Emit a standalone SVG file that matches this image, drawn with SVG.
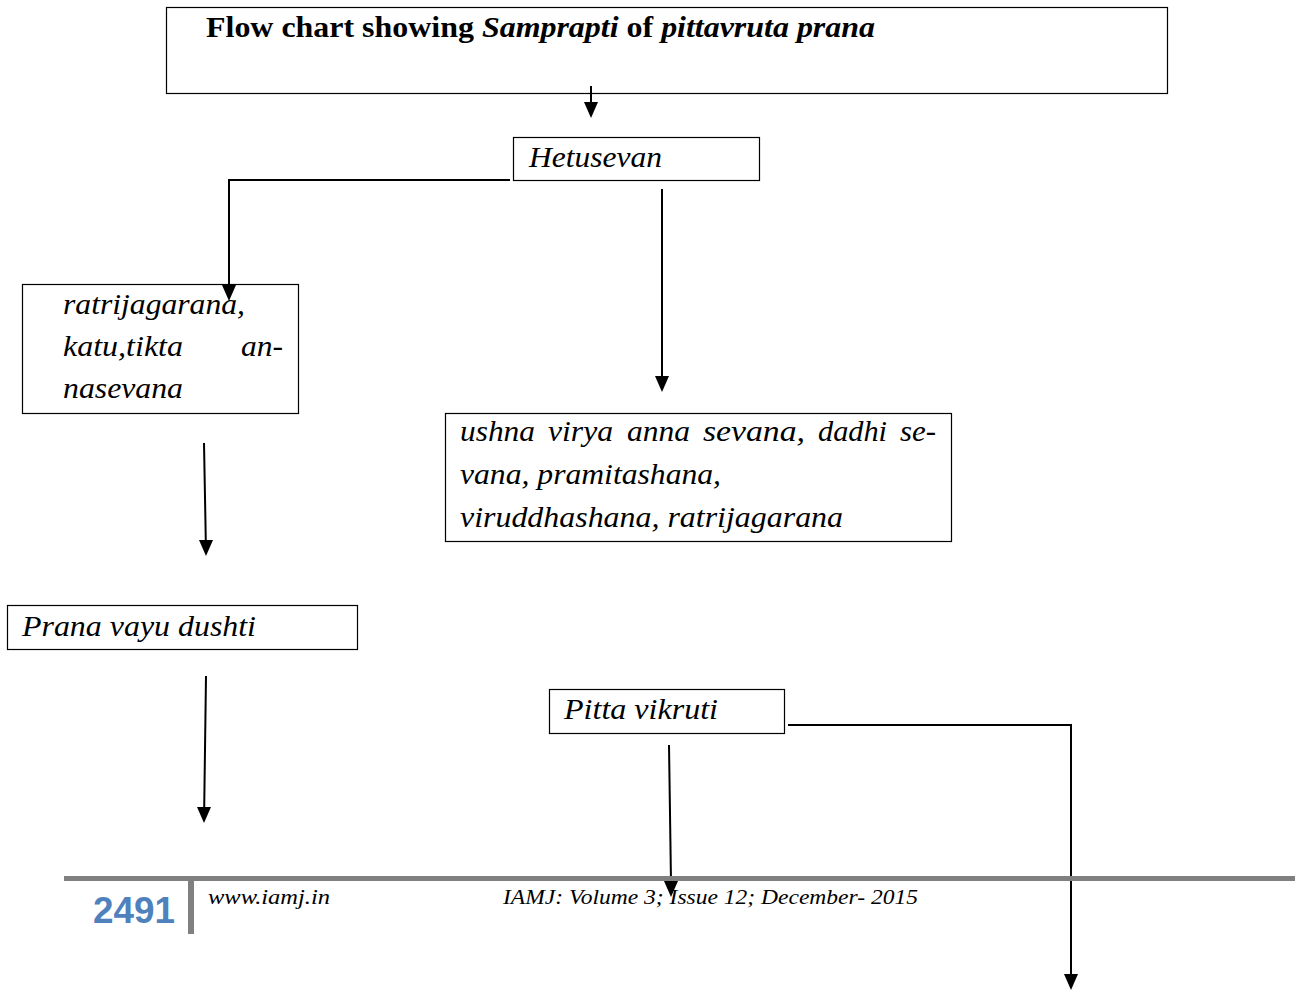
<svg xmlns="http://www.w3.org/2000/svg" width="1295" height="991" viewBox="0 0 1295 991">
<style>
.box{fill:#fff;stroke:#000;stroke-width:1.2}
.t{font-family:"Liberation Serif",serif;font-style:italic;font-size:30px;fill:#000}
.c{fill:none;stroke:#000;stroke-width:2}
.f{font-family:"Liberation Serif",serif;font-style:italic;font-size:22px;fill:#000}
</style>
<rect width="1295" height="991" fill="#fff"/>
<g id="title">
<rect class="box" x="166.5" y="7.5" width="1001" height="86"/>
<text x="206" y="37" font-family="Liberation Serif,serif" font-weight="bold" font-size="29" textLength="669" lengthAdjust="spacingAndGlyphs">Flow chart showing <tspan font-style="italic">Samprapti</tspan> of <tspan font-style="italic">pittavruta prana</tspan></text>
</g>
<g id="hetusevan">
<rect class="box" x="513.5" y="137.5" width="246" height="43"/>
<text class="t" x="529" y="167" textLength="133" lengthAdjust="spacingAndGlyphs">Hetusevan</text>
</g>
<g id="ratri">
<rect class="box" x="22.5" y="284.5" width="276" height="129"/>
<text class="t" x="63" y="314" textLength="182" lengthAdjust="spacingAndGlyphs">ratrijagarana,</text>
<text class="t" x="63" y="356" textLength="120" lengthAdjust="spacingAndGlyphs">katu,tikta</text>
<text class="t" x="241" y="356" textLength="42" lengthAdjust="spacingAndGlyphs">an-</text>
<text class="t" x="63" y="398" textLength="120" lengthAdjust="spacingAndGlyphs">nasevana</text>
</g>
<g id="ushna">
<rect class="box" x="445.5" y="413.5" width="506" height="128"/>
<text class="t" y="441"><tspan x="460" textLength="75" lengthAdjust="spacingAndGlyphs">ushna</tspan><tspan x="548" textLength="65" lengthAdjust="spacingAndGlyphs">virya</tspan><tspan x="627" textLength="63" lengthAdjust="spacingAndGlyphs">anna</tspan><tspan x="703" textLength="102" lengthAdjust="spacingAndGlyphs">sevana,</tspan><tspan x="818" textLength="69" lengthAdjust="spacingAndGlyphs">dadhi</tspan><tspan x="900" textLength="36" lengthAdjust="spacingAndGlyphs">se-</tspan></text>
<text class="t" x="460" y="484" textLength="261" lengthAdjust="spacingAndGlyphs">vana, pramitashana,</text>
<text class="t" x="460" y="527" textLength="383" lengthAdjust="spacingAndGlyphs">viruddhashana, ratrijagarana</text>
</g>
<g id="prana">
<rect class="box" x="7.5" y="605.5" width="350" height="44"/>
<text class="t" x="22" y="636" textLength="234" lengthAdjust="spacingAndGlyphs">Prana vayu dushti</text>
</g>
<g id="pitta">
<rect class="box" x="549.5" y="689.5" width="235" height="44"/>
<text class="t" x="564" y="719" textLength="154" lengthAdjust="spacingAndGlyphs">Pitta vikruti</text>
</g>
<g id="connectors">
<path class="c" d="M591,86 L591,103"/>
<path d="M584,102 L598,102 L591,118 Z"/>
<path class="c" d="M510,180 L229,180 L229,286"/>
<path d="M222,285 L236,285 L229,301 Z"/>
<path class="c" d="M662,189 L662,377"/>
<path d="M655,376 L669,376 L662,392 Z"/>
<path class="c" d="M204,443 L205.8,541"/>
<path d="M199,540 L213,540 L206,556 Z"/>
<path class="c" d="M206,676 L204.2,808"/>
<path d="M197,807 L211,807 L204,823 Z"/>
<path class="c" d="M669,745 L671,882"/>
<path d="M664,881 L678,881 L671,897 Z"/>
<path class="c" d="M788,725 L1071,725 L1071,975"/>
<path d="M1064,974 L1078,974 L1071,990 Z"/>
</g>
<g id="footer">
<rect x="64" y="876" width="1231" height="5" fill="#808080"/>
<rect x="188" y="876" width="6" height="58" fill="#808080"/>
<text x="93" y="923" font-family="Liberation Sans,sans-serif" font-weight="bold" font-size="36" fill="#4F81BD" textLength="82" lengthAdjust="spacingAndGlyphs">2491</text>
<text class="f" x="208" y="904" textLength="122" lengthAdjust="spacingAndGlyphs">www.iamj.in</text>
<text class="f" x="503" y="904" textLength="415" lengthAdjust="spacingAndGlyphs">IAMJ: Volume 3; Issue 12; December- 2015</text>
</g>
</svg>
